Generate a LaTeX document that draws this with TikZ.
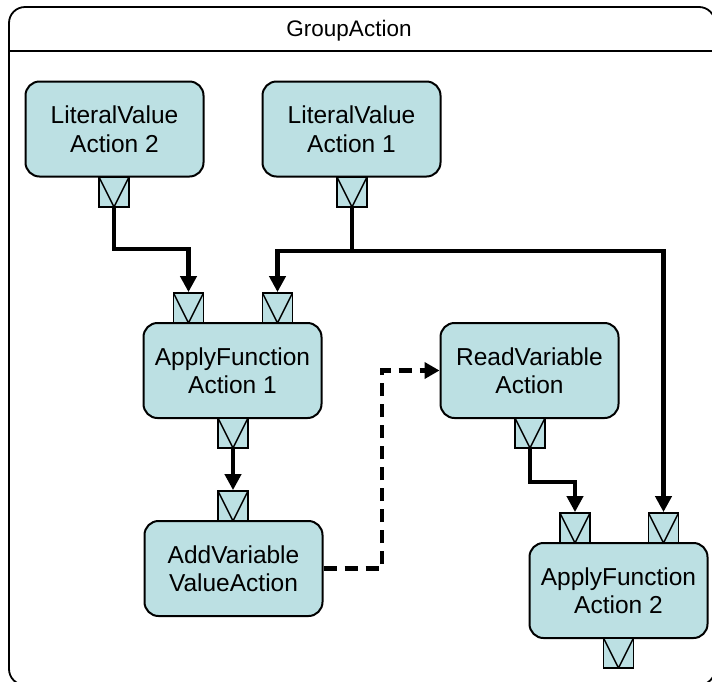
\documentclass[tikz,border=0pt]{standalone}
\usepackage{fontspec}
\setmainfont{Liberation Sans}
\usetikzlibrary{arrows.meta}
\definecolor{actfill}{RGB}{188,224,227}
\tikzset{
  action/.style={draw, fill=actfill, line width=2, rounded corners=14,
    minimum width=178, minimum height=95, align=center, inner sep=0,
    font=\fontsize{24.5}{28.5}\selectfont},
  pin/.style={draw, fill=actfill, line width=1.8, minimum size=30, inner sep=0,
    path picture={\draw[line width=1.5]
      (path picture bounding box.north west) -- (path picture bounding box.south)
      -- (path picture bounding box.north east);}},
  flow/.style={line width=4.8, -{Triangle[length=16,width=16]}},
  flowline/.style={line width=4.8},
  dflow/.style={line width=4.8, dash pattern=on 13 off 8, -{Triangle[length=15,width=16]}},
}
\begin{document}
\begin{tikzpicture}[x=1pt, y=-1pt]
\useasboundingbox (0,0) rectangle (712,681);

% group frame with its title compartment
\draw[line width=1.8, rounded corners=16] (9,7) rectangle (715,685);
\draw[line width=1.8] (9,51) -- (715,51);
\node[font=\fontsize{22.5}{27}\selectfont] (title) at (349,31) {GroupAction};

% actions
\node[action] (lv2) at (114.5,129) {LiteralValue\\Action 2};
\node[action] (lv1) at (351.5,129) {LiteralValue\\Action 1};
\node[action] (af1) at (232.5,370.5) {ApplyFunction\\Action 1};
\node[action] (avv) at (233.5,568.5) {AddVariable\\ValueAction};
\node[action] (rv)  at (529.5,370.5) {ReadVariable\\Action};
\node[action] (af2) at (618.5,590.5) {ApplyFunction\\Action 2};

% pins
\node[pin] (lv2o) at (114,192) {};
\node[pin] (lv1o) at (352,192) {};
\node[pin] (af1a) at (188.5,308) {};
\node[pin] (af1b) at (277.5,308) {};
\node[pin] (af1o) at (233,433) {};
\node[pin] (avvi) at (233,506) {};
\node[pin] (rvo)  at (530,433) {};
\node[pin] (af2a) at (575,528) {};
\node[pin] (af2b) at (663.5,528) {};
\node[pin] (af2o) at (618.5,653) {};

% routing points
\coordinate (row1) at (0,249);
\coordinate (split) at (352,251);
\coordinate (row2) at (0,482);
\coordinate (bend) at (382,0);

% object flows
\draw[flow] (lv2o.south) -- (lv2o.south |- row1) -| (af1a.north);
\draw[flowline] (lv1o.south) -- ([yshift=2]split);
\draw[flow] (split) -| (af1b.north);
\draw[flow] (split) -| (af2b.north);
\draw[flow] (af1o.south) -- (avvi.north);
\draw[flow] (rvo.south) -- (rvo.south |- row2) -| (af2a.north);

% control dependency
\draw[dflow] (avv.east) -| (bend |- rv.west) -- (rv.west);
\end{tikzpicture}
\end{document}
